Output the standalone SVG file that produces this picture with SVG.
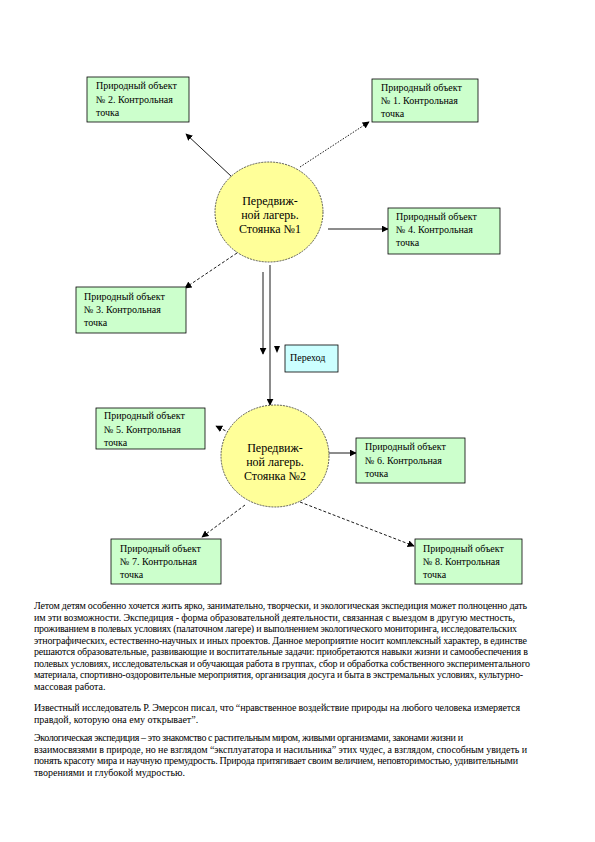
<svg xmlns="http://www.w3.org/2000/svg" width="595" height="842" viewBox="0 0 595 842">
<style>
.box{fill:#ccffcc;stroke:#000;stroke-width:0.8}
.pbox{fill:#ccffff;stroke:#000;stroke-width:0.8}
.ell{fill:#ffff99;stroke:#333;stroke-width:0.8;stroke-dasharray:2 1}
.t{font-family:'Liberation Serif','DejaVu Serif','Times New Roman',serif;font-size:10px;fill:#000}
.et{font-family:'Liberation Serif','DejaVu Serif','Times New Roman',serif;font-size:12px;fill:#000;text-anchor:middle}
.p{font-family:'Liberation Serif','DejaVu Serif','Times New Roman',serif;font-size:10px;fill:#000}
.c{fill:none;stroke:#000;stroke-width:0.9;marker-end:url(#ah)}
.dot{stroke-dasharray:1.5 1.5}
.dash{stroke-dasharray:3 2}
</style>
<defs>
<marker id="ah" viewBox="0 0 10 10" refX="9" refY="5" markerWidth="7" markerHeight="7" markerUnits="userSpaceOnUse" orient="auto">
<path d="M0,0 L10,5 L0,10 z" fill="#000"/>
</marker>
</defs>
<rect width="595" height="842" fill="#fff"/>
<g id="connectors">
<line class="c" x1="232" y1="177" x2="186" y2="134"/>
<line class="c dot" x1="300" y1="167" x2="369" y2="122"/>
<line class="c" x1="328" y1="229" x2="388" y2="229"/>
<line class="c dash" x1="237" y1="253" x2="185" y2="288"/>
<line class="c" x1="263" y1="272" x2="263" y2="354"/>
<line class="c" x1="270" y1="265" x2="270" y2="405"/>
<path d="M274,346 L280,346 L277,353 z" fill="#000"/>
<line class="c dash" x1="230" y1="433" x2="216" y2="426"/>
<line class="c" x1="328" y1="453" x2="356" y2="453"/>
<line class="c dash" x1="245" y1="505" x2="202" y2="537"/>
<line class="c dash" x1="300" y1="502" x2="414" y2="546"/>
</g>
<g id="camp1" font-family="Liberation Serif, serif">
<ellipse class="ell" cx="269" cy="212" rx="54" ry="50"/>
<text class="et" x="270" y="205">Передвиж-</text>
<text class="et" x="270" y="219">ной лагерь.</text>
<text class="et" x="270" y="233">Стоянка №1</text>
</g>
<g id="obj2">
<rect class="box" x="87" y="77" width="102" height="45"/>
<text class="t" x="96" y="89">Природный объект</text>
<text class="t" x="96" y="103">№ 2. Контрольная</text>
<text class="t" x="96" y="116">точка</text>
</g>
<g id="obj1">
<rect class="box" x="372" y="79" width="106" height="43"/>
<text class="t" x="381" y="91">Природный объект</text>
<text class="t" x="381" y="104">№ 1. Контрольная</text>
<text class="t" x="381" y="117">точка</text>
</g>
<g id="obj4">
<rect class="box" x="388" y="208" width="112" height="46"/>
<text class="t" x="396" y="220">Природный объект</text>
<text class="t" x="396" y="233">№ 4. Контрольная</text>
<text class="t" x="396" y="246">точка</text>
</g>
<g id="obj3">
<rect class="box" x="76" y="287" width="110" height="46"/>
<text class="t" x="84" y="300">Природный объект</text>
<text class="t" x="84" y="313">№ 3. Контрольная</text>
<text class="t" x="84" y="326">точка</text>
</g>
<g id="transition">
<rect class="pbox" x="285" y="345" width="53" height="27"/>
<text class="t" x="290" y="361">Переход</text>
</g>
<g id="camp2">
<ellipse class="ell" cx="275" cy="456" rx="54" ry="51"/>
<text class="et" x="275" y="452">Передвиж-</text>
<text class="et" x="275" y="466">ной лагерь.</text>
<text class="et" x="275" y="480">Стоянка №2</text>
</g>
<g id="obj5">
<rect class="box" x="96" y="408" width="109" height="41"/>
<text class="t" x="104" y="419">Природный объект</text>
<text class="t" x="104" y="433">№ 5. Контрольная</text>
<text class="t" x="104" y="446">точка</text>
</g>
<g id="obj6">
<rect class="box" x="356" y="438" width="109" height="45"/>
<text class="t" x="365" y="450">Природный объект</text>
<text class="t" x="365" y="464">№ 6. Контрольная</text>
<text class="t" x="365" y="477">точка</text>
</g>
<g id="obj7">
<rect class="box" x="111" y="539" width="110" height="45"/>
<text class="t" x="120" y="552">Природный объект</text>
<text class="t" x="120" y="565">№ 7. Контрольная</text>
<text class="t" x="120" y="578">точка</text>
</g>
<g id="obj8">
<rect class="box" x="415" y="539" width="107" height="45"/>
<text class="t" x="423" y="552">Природный объект</text>
<text class="t" x="423" y="565">№ 8. Контрольная</text>
<text class="t" x="423" y="578">точка</text>
</g>
<g id="text">
<text class="p" x="34" y="609" textLength="493" lengthAdjust="spacing">Летом детям особенно хочется жить ярко, занимательно, творчески, и экологическая экспедиция может полноценно дать</text>
<text class="p" x="34" y="621" textLength="481" lengthAdjust="spacing">им эти возможности. Экспедиция - форма образовательной деятельности, связанная с выездом в другую местность,</text>
<text class="p" x="34" y="632" textLength="483" lengthAdjust="spacing">проживанием в полевых условиях (палаточном лагере) и выполнением экологического мониторинга, исследовательских</text>
<text class="p" x="34" y="644" textLength="493" lengthAdjust="spacing">этнографических, естественно-научных и иных проектов. Данное мероприятие носит комплексный характер, в единстве</text>
<text class="p" x="34" y="655" textLength="494" lengthAdjust="spacing">решаются образовательные, развивающие и воспитательные задачи: приобретаются навыки жизни и самообеспечения в</text>
<text class="p" x="34" y="667" textLength="496" lengthAdjust="spacing">полевых условиях, исследовательская и обучающая работа в группах, сбор и обработка собственного экспериментального</text>
<text class="p" x="34" y="678" textLength="489" lengthAdjust="spacing">материала, спортивно-оздоровительные мероприятия, организация досуга и быта в экстремальных условиях, культурно-</text>
<text class="p" x="34" y="690">массовая работа.</text>
<text class="p" x="34" y="711" textLength="486" lengthAdjust="spacing">Известный исследователь Р. Эмерсон писал, что “нравственное воздействие природы на любого человека измеряется</text>
<text class="p" x="34" y="723">правдой, которую она ему открывает”.</text>
<text class="p" x="34" y="741" textLength="429" lengthAdjust="spacing">Экологическая экспедиция – это знакомство с растительным миром, живыми организмами, законами жизни и</text>
<text class="p" x="34" y="753" textLength="493" lengthAdjust="spacing">взаимосвязями в природе, но не взглядом “эксплуататора и насильника” этих чудес, а взглядом, способным увидеть и</text>
<text class="p" x="34" y="764" textLength="484" lengthAdjust="spacing">понять красоту мира и научную премудрость. Природа притягивает своим величием, неповторимостью, удивительными</text>
<text class="p" x="34" y="776">творениями и глубокой мудростью.</text>
</g>
</svg>
